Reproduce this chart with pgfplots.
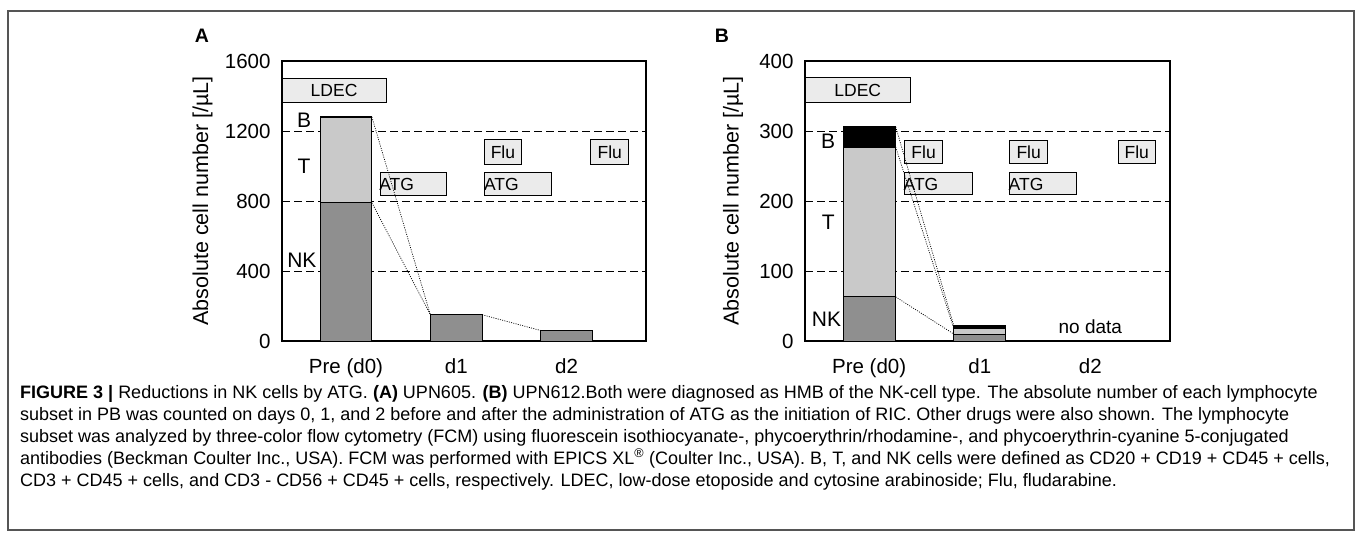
\documentclass[border=0pt]{standalone}
\usepackage{fontspec}
\setmainfont{Liberation Sans}
\usepackage{pgfplots}
\pgfplotsset{compat=1.18}

\definecolor{nkgray}{HTML}{8F8F8F}
\definecolor{tgray}{HTML}{C9C9C9}
\definecolor{boxgray}{HTML}{EBEBEB}
\definecolor{framegray}{HTML}{555555}

\pgfplotsset{
  panel/.style={
    scale only axis, height=280pt, anchor=south west,
    xmin=-0.58, xmax=2.72, ymin=0,
    xtick={0,1,2}, xticklabels={Pre (d0),d1,d2},
    major tick length=0pt,
    ymajorgrids,
    grid style={black, line width=1pt, dash pattern=on 7.5pt off 4.5pt},
    axis line style={line width=1.1pt},
    tick label style={font=\fontsize{20.5}{24}\selectfont},
    xticklabel style={yshift=-14pt},
    yticklabel style={xshift=-8pt},
    /pgf/number format/assume math mode=true,
    /pgf/number format/1000 sep={},
    ylabel={Absolute cell number [/µL]},
    ylabel style={font=\fontsize{21.5}{24}\selectfont, anchor=center},
    clip=false,
  },
  bars/.style={ybar, bar shift=0pt, bar width=0.47, draw=black, line width=0.9pt},
  link/.style={black, line width=0.7pt, dash pattern=on 1pt off 1.3pt, sharp plot, mark=none},
}
\tikzset{
  drug/.style={draw=black, fill=boxgray, line width=0.9pt},
  dtext/.style={font=\fontsize{17.5}{20}\selectfont},
  cell/.style={font=\fontsize{21}{24}\selectfont},
}

\begin{document}
\begin{tikzpicture}
\path[use as bounding box] (0pt,0pt) rectangle (1360pt,-538pt);
\draw[framegray, line width=1.2pt] (8pt,-11pt) rectangle (1354pt,-530pt);

% panel A
\node[font=\fontsize{19.5}{22}\selectfont\bfseries] at (202pt,-36pt) {A};
\begin{axis}[panel, at={(282pt,-341pt)}, width=364pt,
  ymax=1600, ytick={0,400,800,1200,1600},
  ylabel style={at={(axis description cs:-0.218,0.5)}}]
% cumulative tops: B, T, NK
\addplot[bars, fill=black] coordinates {(0,1284) (1,150) (2,60)};
\addplot[bars, fill=tgray] coordinates {(0,1280) (1,150) (2,60)};
\addplot[bars, fill=nkgray] coordinates {(0,790) (1,150) (2,60)};
\draw[drug] (axis cs:-0.58,1365) rectangle (axis cs:0.365,1500);
\node[dtext] at (axis cs:-0.108,1432) {LDEC};
\draw[drug] (axis cs:0.31,834) rectangle (axis cs:0.915,966);
\node[dtext, anchor=west, inner sep=0pt] at (axis cs:0.30,895) {ATG};
\draw[drug] (axis cs:1.257,834) rectangle (axis cs:1.86,966);
\node[dtext, anchor=west, inner sep=0pt] at (axis cs:1.25,895) {ATG};
\draw[drug] (axis cs:1.257,1011) rectangle (axis cs:1.59,1149);
\node[dtext] at (axis cs:1.423,1080) {Flu};
\draw[drug] (axis cs:2.22,1011) rectangle (axis cs:2.565,1149);
\node[dtext] at (axis cs:2.392,1080) {Flu};
\addplot[link] coordinates {(0.235,1280) (0.765,150)};
\addplot[link] coordinates {(0.235,790) (0.765,150)};
\addplot[link] coordinates {(1.235,150) (1.765,60)};
\node[cell] at (axis cs:-0.38,1262) {B};
\node[cell] at (axis cs:-0.38,996) {T};
\node[cell] at (axis cs:-0.40,460) {NK};
\end{axis}

% panel B
\node[font=\fontsize{19.5}{22}\selectfont\bfseries] at (722pt,-36pt) {B};
\begin{axis}[panel, at={(805pt,-341pt)}, width=365pt,
  ymax=400, ytick={0,100,200,300,400},
  ylabel style={at={(axis description cs:-0.197,0.5)}}]
\addplot[bars, fill=black] coordinates {(0,306) (1,22)};
\addplot[bars, fill=tgray] coordinates {(0,277) (1,18)};
\addplot[bars, fill=nkgray] coordinates {(0,63) (1,10)};
\draw[drug] (axis cs:-0.58,341) rectangle (axis cs:0.375,376);
\node[dtext] at (axis cs:-0.103,358.5) {LDEC};
\draw[drug] (axis cs:0.32,209) rectangle (axis cs:0.935,241);
\node[dtext, anchor=west, inner sep=0pt] at (axis cs:0.31,224) {ATG};
\draw[drug] (axis cs:1.27,209) rectangle (axis cs:1.876,241);
\node[dtext, anchor=west, inner sep=0pt] at (axis cs:1.26,224) {ATG};
\draw[drug] (axis cs:0.32,253) rectangle (axis cs:0.665,287);
\node[dtext] at (axis cs:0.4925,270) {Flu};
\draw[drug] (axis cs:1.27,253) rectangle (axis cs:1.615,287);
\node[dtext] at (axis cs:1.4425,270) {Flu};
\draw[drug] (axis cs:2.25,253) rectangle (axis cs:2.59,287);
\node[dtext] at (axis cs:2.42,270) {Flu};
\addplot[link] coordinates {(0.24,306) (0.765,22)};
\addplot[link] coordinates {(0.24,277) (0.765,18)};
\addplot[link] coordinates {(0.24,63) (0.765,10)};
\node[cell] at (axis cs:-0.37,286) {B};
\node[cell] at (axis cs:-0.37,170) {T};
\node[cell] at (axis cs:-0.385,31) {NK};
\node[font=\fontsize{19}{22}\selectfont] at (axis cs:2.0,20) {no data};
\end{axis}

% caption
\node[anchor=north west, align=left, inner sep=0pt,
  font=\fontsize{18}{22}\selectfont] at (20pt,-385pt) {%
\textbf{FIGURE 3 |} Reductions in NK cells by ATG. \textbf{(A)} UPN605. \textbf{(B)} UPN612.Both were diagnosed as HMB of the NK-cell type. The absolute number of each lymphocyte\\
subset in PB was counted on days 0, 1, and 2 before and after the administration of ATG as the initiation of RIC. Other drugs were also shown. The lymphocyte\\
subset was analyzed by three-color flow cytometry (FCM) using fluorescein isothiocyanate-, phycoerythrin/rhodamine-, and phycoerythrin-cyanine 5-conjugated\\
antibodies (Beckman Coulter Inc., USA). FCM was performed with EPICS XL\textsuperscript{®} (Coulter Inc., USA). B, T, and NK cells were defined as CD20 + CD19 + CD45 + cells,\\
CD3 + CD45 + cells, and CD3 - CD56 + CD45 + cells, respectively. LDEC, low-dose etoposide and cytosine arabinoside; Flu, fludarabine.};
\end{tikzpicture}
\end{document}
